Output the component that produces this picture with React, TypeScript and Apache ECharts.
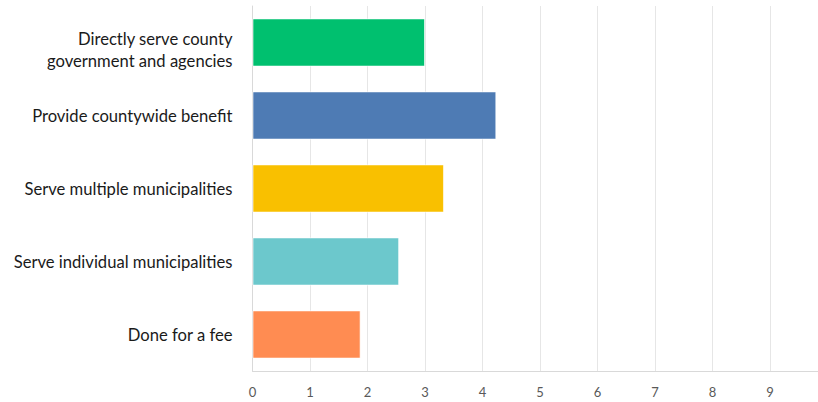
import React, { useEffect, useRef } from "react";
import * as echarts from "echarts";

const categories = [
  "Directly serve county\ngovernment and agencies",
  "Provide countywide benefit",
  "Serve multiple municipalities",
  "Serve individual municipalities",
  "Done for a fee",
];
const values = [3.0, 4.24, 3.33, 2.55, 1.88];
const colors = ["#00C06F", "#4E7BB4", "#F9C000", "#6CC8CC", "#FF8C52"];
const xTicks = [0, 1, 2, 3, 4, 5, 6, 7, 8, 9, 10];

export default function App() {
  const ref = useRef<HTMLDivElement>(null);
  useEffect(() => {
    document.body.style.margin = "0";
    const chart = echarts.init(ref.current!, null, { renderer: "svg" });
    chart.setOption({
      animation: false,
      backgroundColor: "#ffffff",
      grid: { left: 252.5, top: 6, width: 575, height: 365, containLabel: false },
      xAxis: {
        type: "value",
        min: xTicks[0],
        max: xTicks[xTicks.length - 1],
        interval: 1,
        axisLine: { show: true, lineStyle: { color: "#d9d9d9", width: 1 } },
        axisTick: { show: false },
        splitLine: { show: true, lineStyle: { color: "#e6e6e6", width: 1 } },
        axisLabel: {
          color: "#595959",
          fontSize: 13,
          fontFamily: "Lato",
          margin: 14,
        },
      },
      yAxis: {
        type: "category",
        inverse: true,
        data: categories,
        axisLine: { show: true, lineStyle: { color: "#d9d9d9", width: 1 } },
        axisTick: { show: false },
        axisLabel: {
          color: "#1a1a1a",
          fontSize: 16.6,
          fontFamily: "Lato",
          margin: 20,
          lineHeight: 22,
          formatter: (v: string) =>
            v.includes("\n")
              ? "{sp| }\n" + v.split("\n").map((l) => "{t|" + l + "}").join("\n")
              : "{t|" + v + "}",
          rich: {
            sp: { fontSize: 10, lineHeight: 14 },
            t: {
              color: "#1a1a1a",
              fontSize: 16.6,
              fontFamily: "Lato",
              lineHeight: 22,
            },
          },
        },
      },
      series: [
        {
          type: "bar",
          data: values.map((v, i) => ({ value: v, itemStyle: { color: colors[i] } })),
          barCategoryGap: "34%",
          itemStyle: { borderColor: "rgba(255,255,255,0.6)", borderWidth: 1 },
        },
      ],
    });
    return () => chart.dispose();
  }, []);
  return (
    <div style={{ width: 818, height: 402, overflow: "hidden" }}>
      <div ref={ref} style={{ width: 850, height: 402 }} />
    </div>
  );
}
